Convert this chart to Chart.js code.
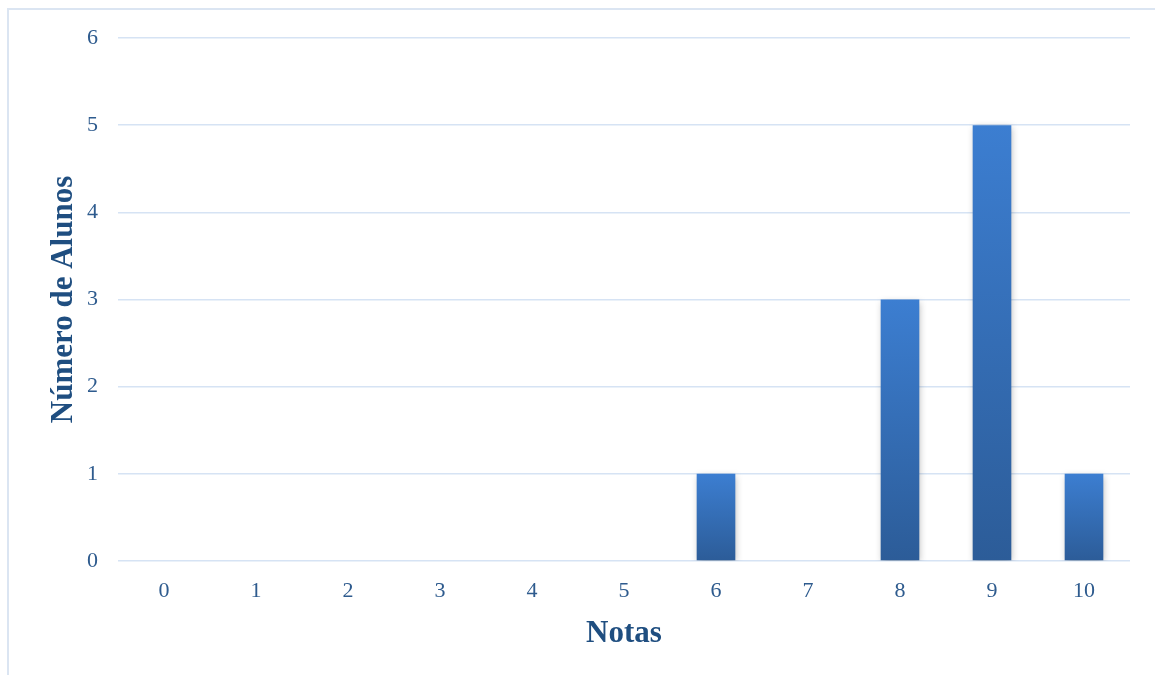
<!DOCTYPE html>
<html>
<head>
<meta charset="utf-8">
<script src="https://cdn.jsdelivr.net/npm/chart.js@4"></script>
<style>
  html, body { margin: 0; padding: 0; background: #fff; overflow: hidden; }
  #wrap { position: absolute; left: 0; top: 0; width: 1155px; height: 675px; }
  #frame { position: absolute; left: 7px; top: 8px; width: 1200px; height: 700px;
           border-top: 2px solid #dbe5f2; border-left: 2px solid #dbe5f2; }
</style>
</head>
<body>
<div id="frame"></div>
<div id="wrap"><canvas id="myChart" width="1155" height="675"></canvas></div>
<script>
'use strict';
let notas = ['0', '1', '2', '3', '4', '5', '6', '7', '8', '9', '10'];
let alunos = [0, 0, 0, 0, 0, 0, 1, 0, 3, 5, 1];
let yTicks = [0, 1, 2, 3, 4, 5, 6];

let serif = "'Liberation Serif', 'Times New Roman', serif";

// gradient per bar, light on top, dark at the bottom
function barGradient(context) {
    let chart = context.chart;
    if (!chart.chartArea || !chart.scales.y) return '#3a78c6';
    let v = context.parsed ? context.parsed.y : 0;
    let yScale = chart.scales.y;
    let top = yScale.getPixelForValue(v);
    let base = yScale.getPixelForValue(0);
    if (!isFinite(top) || top === base) return '#3a78c6';
    let g = chart.ctx.createLinearGradient(0, top, 0, base);
    g.addColorStop(0, '#3c7ed1');
    g.addColorStop(1, '#2c5c98');
    return g;
}

let shadowPlugin = {
    id: 'barShadow',
    beforeDatasetsDraw(chart) {
        let ctx = chart.ctx;
        ctx.save();
        ctx.shadowColor = 'rgba(0,0,0,0.28)';
        ctx.shadowBlur = 7;
        ctx.shadowOffsetX = 1;
        ctx.shadowOffsetY = 2;
    },
    afterDatasetsDraw(chart) {
        chart.ctx.restore();
    }
};

let ctx = document.getElementById('myChart').getContext('2d');
let myChart = new Chart(ctx, {
    type: 'bar',
    data: {
        labels: notas,
        datasets: [{
            label: 'Número de Alunos',
            data: alunos,
            backgroundColor: barGradient,
            borderWidth: 0,
            categoryPercentage: 1,
            barPercentage: 0.42
        }]
    },
    plugins: [shadowPlugin],
    options: {
        responsive: false,
        animation: false,
        layout: { padding: { left: 0, top: 38, right: 25, bottom: 0 } },
        plugins: {
            legend: { display: false },
            tooltip: { enabled: false }
        },
        scales: {
            x: {
                grid: { display: false },
                border: { display: false },
                ticks: { color: '#2e5b8e', font: { family: serif, size: 22 }, padding: 9 },
                title: {
                    display: true,
                    text: 'Notas',
                    color: '#1f4e80',
                    font: { family: serif, size: 31, weight: 'bold' },
                    padding: { top: 22, bottom: 22 }
                },
                afterFit(scale) { scale.height = 114; }
            },
            y: {
                min: 0,
                max: 6,
                afterBuildTicks(scale) { scale.ticks = yTicks.map(v => ({ value: v })); },
                grid: { color: '#d6e3f4', lineWidth: 1.6, drawTicks: false },
                border: { display: false },
                ticks: { color: '#2e5b8e', font: { family: serif, size: 22 }, padding: 20 },
                title: {
                    display: true,
                    text: 'Número de Alunos',
                    color: '#1f4e80',
                    font: { family: serif, size: 31, weight: 'bold' },
                    padding: { top: 45, bottom: 45 }
                },
                afterFit(scale) { scale.width = 118; }
            }
        }
    }
});
</script>
</body>
</html>
